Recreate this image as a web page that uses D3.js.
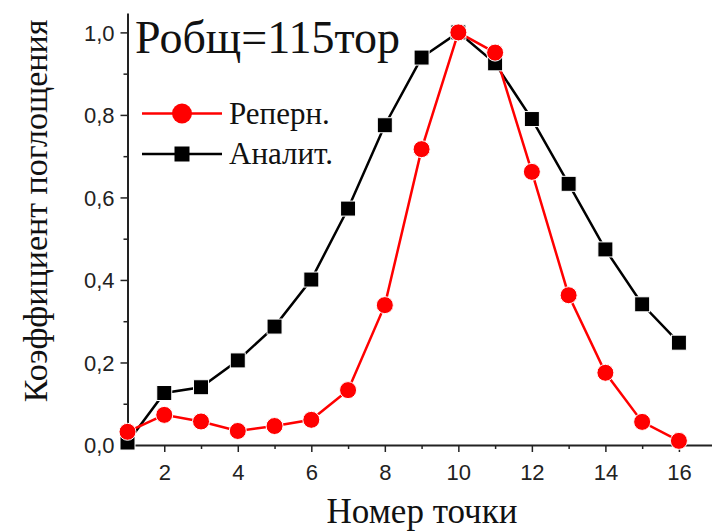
<!DOCTYPE html>
<html>
<head>
<meta charset="utf-8">
<script src="https://cdn.jsdelivr.net/npm/d3@7"></script>
<style>
  body { margin: 0; background: #fff; }
  svg { display: block; }
  .tick text { font-family: Arial, "Liberation Sans", sans-serif; font-size: 22px; fill: #222; }
  .serif { font-family: "Times New Roman", "Liberation Serif", serif; fill: #111; }
</style>
</head>
<body>
<svg id="chart" width="712" height="531"></svg>
<script>
// номера точек
const points = [1, 2, 3, 4, 5, 6, 7, 8, 9, 10, 11, 12, 13, 14, 15, 16];
// Реперн.
const reperValues = [0.032, 0.073, 0.057, 0.034, 0.046, 0.061, 0.133, 0.339, 0.717, 1.0, 0.951, 0.662, 0.363, 0.175, 0.056, 0.010];
// Аналит.
const analitValues = [0.006, 0.126, 0.14, 0.205, 0.287, 0.401, 0.573, 0.775, 0.939, 1.0, 0.925, 0.79, 0.633, 0.474, 0.341, 0.248];
const xTicks = [2, 4, 6, 8, 10, 12, 14, 16];
const yTicks = [0, 0.2, 0.4, 0.6, 0.8, 1.0];

const svg = d3.select('#chart');
const mLeft = 127.5, mBottom = 445, mTop = 13, mRight = 712;

const x = d3.scaleLinear().domain([1, 16.9]).range([mLeft, mRight]);
const y = d3.scaleLinear().domain([0, 1.047]).range([mBottom, mTop]);

const fmt = d => d3.format('.1f')(d).replace('.', ',');

// minor ticks
svg.append('g')
    .attr('transform', 'translate(0,' + mBottom + ')')
    .call(d3.axisBottom(x).tickValues(d3.range(1, 17, 2)).tickSize(4).tickFormat(''))
    .call(g => g.select('.domain').remove())
    .selectAll('line').attr('stroke', '#222').attr('stroke-width', 1.5);
svg.append('g')
    .attr('transform', 'translate(' + mLeft + ',0)')
    .call(d3.axisLeft(y).tickValues([0.1, 0.3, 0.5, 0.7, 0.9]).tickSize(4).tickFormat(''))
    .call(g => g.select('.domain').remove())
    .selectAll('line').attr('stroke', '#222').attr('stroke-width', 1.5);

// major axes
const xAxis = svg.append('g')
    .attr('transform', 'translate(0,' + mBottom + ')')
    .call(d3.axisBottom(x).tickValues(xTicks).tickSize(7).tickSizeOuter(0).tickPadding(12));
const yAxis = svg.append('g')
    .attr('transform', 'translate(' + mLeft + ',0)')
    .call(d3.axisLeft(y).tickValues(yTicks).tickFormat(fmt).tickSize(7).tickSizeOuter(0).tickPadding(6));
[xAxis, yAxis].forEach(g => {
    g.select('.domain').attr('stroke', '#222').attr('stroke-width', 2);
    g.selectAll('.tick line').attr('stroke', '#222').attr('stroke-width', 1.5);
});
yAxis.selectAll('.tick text').attr('dy', '0.36em');

// линии
const line = vals => d3.line()
    .x((d, i) => x(points[i]))
    .y(d => y(d))(vals);

svg.append('path').attr('d', line(analitValues))
    .attr('fill', 'none').attr('stroke', '#000').attr('stroke-width', 2.5);
svg.append('path').attr('d', line(reperValues))
    .attr('fill', 'none').attr('stroke', '#f00').attr('stroke-width', 2.5);

svg.selectAll('.sq').data(analitValues).enter().append('rect')
    .attr('class', 'sq')
    .attr('x', (d, i) => x(points[i]) - 7.5)
    .attr('y', d => y(d) - 7.5)
    .attr('width', 15).attr('height', 15)
    .attr('fill', '#000').attr('stroke', '#fff').attr('stroke-width', 1);

svg.selectAll('.dot').data(reperValues).enter().append('circle')
    .attr('class', 'dot')
    .attr('cx', (d, i) => x(points[i]))
    .attr('cy', d => y(d))
    .attr('r', 8.5)
    .attr('fill', '#f00').attr('stroke', '#fff').attr('stroke-width', 1);

// легенда
const legend = [
    {name: 'Реперн.', color: '#f00', shape: 'circle', y: 113.5},
    {name: 'Аналит.', color: '#000', shape: 'square', y: 154}
];
legend.forEach(l => {
    svg.append('line').attr('x1', 142).attr('x2', 222).attr('y1', l.y).attr('y2', l.y)
        .attr('stroke', l.color).attr('stroke-width', 2.5);
    if (l.shape === 'circle') {
        svg.append('circle').attr('cx', 182).attr('cy', l.y).attr('r', 10).attr('fill', l.color);
    } else {
        svg.append('rect').attr('x', 174.5).attr('y', l.y - 7.5).attr('width', 15).attr('height', 15).attr('fill', l.color);
    }
    svg.append('text').attr('class', 'serif').attr('x', 229).attr('y', l.y + 10)
        .style('font-size', '31px').text(l.name);
});

svg.append('text').attr('class', 'serif').attr('x', 135).attr('y', 53)
    .style('font-size', '46px').text('Робщ=115тор');

svg.append('text').attr('class', 'serif')
    .attr('x', 422).attr('y', 523).attr('text-anchor', 'middle')
    .style('font-size', '35px').text('Номер точки');

svg.append('text').attr('class', 'serif')
    .attr('transform', 'translate(47,211) rotate(-90)')
    .attr('text-anchor', 'middle')
    .style('font-size', '34px').text('Коэффициент поглощения');
</script>
</body>
</html>
